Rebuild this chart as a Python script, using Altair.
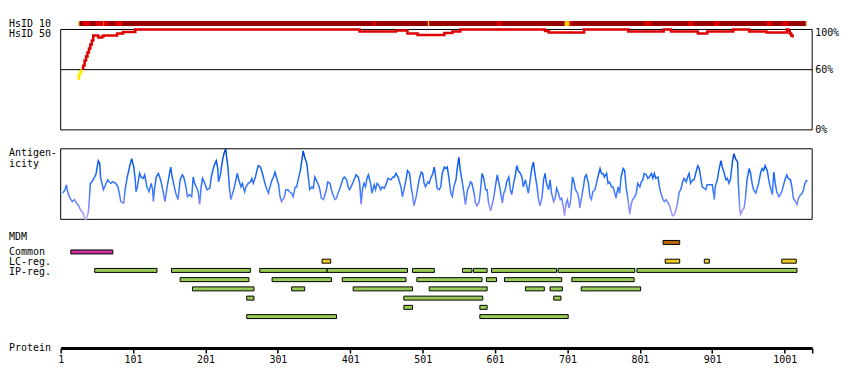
import altair as alt
import pandas as pd

PROTEIN_LENGTH = 1039
TICKS = [1, 101, 201, 301, 401, 501, 601, 701, 801, 901, 1001]

# ---- HsID 10 identity strip (residue segments) ----
hsid10_start = [26, 26, 32, 50, 59.5, 60.5, 76.5, 432, 508, 604, 697, 704, 808, 867, 903, 976, 998, 1030]
hsid10_end = [1031, 27, 41, 59.5, 60.5, 67, 86, 436, 510, 610, 704, 707, 816, 875, 911, 984, 1006, 1031]
hsid10_level = ["dark", "yellow", "red", "red", "yellow", "red", "red", "red", "yellow", "red",
                "yellow", "red", "red", "red", "red", "red", "red", "yellow"]

# ---- HsID 50 identity profile (%) ----
hsid50_low_res = [24, 26, 28, 30]
hsid50_low_pct = [51, 55, 58, 61]
hsid50_res = [30, 32, 34, 36, 38, 40, 42, 44, 46, 53, 58, 60, 79, 87, 104, 414, 464, 480, 494, 531,
              542, 553, 670, 675, 724, 785, 834, 844, 881, 894, 930, 952, 976, 1004, 1006, 1008, 1010, 1012]
hsid50_pct = [61, 64, 69, 73, 77, 81, 85, 89, 94, 92, 93, 94, 96, 97.5, 100, 98, 99, 96, 94.5, 96.5,
              98, 100, 98.5, 97, 100, 98, 100, 98, 96, 98, 100, 98, 97, 100, 99, 96, 94, 92]

# ---- Antigenicity profile (residue, relative score) ----
antigen_profile = [
    (4, 37), (7, 42), (9, 49), (10, 42), (12, 35), (14, 30), (17, 25), (20, 28), (23, 23), (26, 19),
    (28, 14), (32, 9), (34, 2), (36, 0), (39, 9), (40, 19), (42, 51), (44, 53), (48, 60), (50, 65),
    (51, 72), (53, 83), (55, 79), (56, 60), (58, 51), (60, 42), (63, 49), (66, 56), (70, 51), (73, 53),
    (77, 51), (80, 46), (82, 37), (84, 25), (88, 23), (90, 42), (93, 60), (96, 74), (99, 86), (102, 74),
    (104, 56), (105, 39), (107, 46), (110, 65), (112, 60), (115, 58), (117, 63), (120, 46), (123, 39), (126, 51),
    (128, 42), (129, 25), (131, 46), (133, 60), (136, 65), (139, 56), (142, 42), (145, 25), (148, 46), (151, 63),
    (153, 74), (155, 60), (158, 46), (160, 37), (163, 28), (166, 56), (169, 63), (171, 60), (174, 46), (176, 32),
    (179, 35), (182, 32), (184, 60), (186, 51), (189, 44), (191, 39), (193, 21), (195, 46), (197, 58), (200, 51),
    (203, 42), (207, 44), (209, 60), (211, 69), (214, 79), (216, 83), (218, 72), (219, 53), (222, 65), (223, 74),
    (225, 86), (227, 95), (229, 100), (230, 90), (232, 74), (234, 46), (236, 28), (238, 35), (240, 42), (242, 51),
    (245, 65), (247, 56), (250, 46), (252, 51), (255, 39), (257, 46), (260, 51), (263, 53), (265, 58), (267, 51),
    (270, 60), (272, 69), (274, 76), (277, 74), (279, 67), (281, 60), (283, 51), (286, 42), (288, 37), (290, 46),
    (293, 56), (295, 60), (297, 67), (299, 60), (302, 49), (304, 32), (306, 25), (310, 32), (312, 42), (315, 42),
    (317, 39), (320, 37), (322, 32), (325, 46), (327, 46), (329, 56), (332, 69), (334, 83), (336, 97), (338, 88),
    (341, 79), (343, 60), (345, 42), (348, 46), (350, 44), (352, 60), (354, 56), (357, 49), (359, 42), (361, 30),
    (364, 28), (366, 35), (368, 42), (370, 53), (373, 51), (375, 42), (377, 35), (380, 28), (382, 30), (384, 37),
    (386, 42), (389, 51), (391, 58), (393, 60), (396, 56), (398, 46), (400, 42), (402, 46), (405, 53), (407, 58),
    (409, 63), (412, 60), (414, 51), (416, 21), (418, 44), (420, 51), (422, 46), (424, 58), (426, 63), (429, 51),
    (431, 37), (434, 49), (436, 42), (438, 51), (440, 49), (443, 42), (445, 46), (448, 44), (451, 51), (453, 58),
    (457, 56), (460, 60), (462, 60), (464, 65), (467, 60), (469, 53), (471, 46), (473, 32), (476, 46), (478, 56),
    (480, 69), (483, 65), (485, 46), (487, 35), (489, 19), (492, 32), (494, 44),
    (496, 56), (499, 67), (501, 65), (503, 51), (505, 46), (508, 53), (510, 51), (512, 58), (515, 65), (517, 74),
    (519, 60), (521, 44), (524, 42), (526, 46), (528, 65), (531, 74), (533, 72), (535, 74), (537, 60), (540, 37),
    (542, 32), (544, 46), (547, 56), (549, 74), (551, 88), (553, 69), (556, 51), (558, 37), (560, 21), (563, 42),
    (565, 46), (567, 53), (569, 51), (572, 37), (574, 23), (576, 19), (579, 25), (581, 42), (583, 65), (585, 60),
    (588, 42), (590, 42), (592, 23), (595, 12), (597, 21), (599, 30), (601, 44), (604, 63), (606, 53), (608, 42),
    (611, 23), (613, 37), (615, 42), (617, 53), (620, 60), (622, 42), (624, 35), (627, 53), (629, 63), (631, 76),
    (633, 69), (636, 65), (638, 60), (640, 46), (643, 56), (645, 46), (647, 37), (650, 60), (652, 74), (654, 81),
    (656, 65), (659, 46), (661, 28), (663, 19), (666, 32), (668, 56), (670, 65), (672, 51), (675, 42), (677, 56),
    (679, 37), (682, 25), (684, 30), (686, 44), (688, 39), (691, 28), (693, 30), (695, 19), (697, 5), (699, 23),
    (701, 28), (703, 16), (705, 23), (708, 60), (710, 53), (712, 42), (715, 37), (717, 28), (718, 16), (720, 28),
    (723, 46), (725, 60), (727, 63), (730, 51), (732, 32), (734, 28), (736, 39), (739, 42), (741, 51), (743, 60),
    (746, 72), (748, 65), (750, 65), (752, 60), (755, 65), (757, 51), (759, 53), (762, 46), (764, 46), (766, 39),
    (768, 30), (771, 46), (773, 37), (775, 60), (778, 72), (780, 69), (782, 46), (785, 25), (787, 7), (789, 21),
    (791, 28), (794, 32), (796, 37), (798, 51), (801, 46), (803, 53), (805, 56), (807, 65), (810, 63), (812, 58),
    (814, 60), (817, 65), (819, 58), (821, 65), (823, 58), (826, 60), (828, 46), (830, 37), (833, 28), (835, 25),
    (837, 28), (839, 25), (842, 19), (844, 12), (846, 5), (849, 7), (851, 14), (853, 23), (855, 37), (858, 44),
    (860, 53), (862, 58), (865, 53), (867, 60), (869, 65), (871, 51), (874, 56), (876, 56), (878, 65), (881, 76),
    (883, 72), (885, 60), (887, 46), (890, 44), (892, 42), (894, 49), (897, 49), (899, 49), (901, 49), (904, 28),
    (905, 46), (908, 56), (910, 69), (913, 83), (915, 74), (917, 67), (920, 56), (922, 58), (924, 51), (926, 56),
    (929, 83), (931, 93), (933, 86), (936, 81), (937, 51), (939, 14), (940, 7), (942, 12), (945, 16), (947, 32),
    (949, 56), (952, 72), (954, 65), (956, 51), (958, 42), (961, 37), (963, 44), (965, 51), (968, 67), (970, 72),
    (972, 69), (974, 76), (977, 69), (979, 56), (981, 46), (984, 35), (986, 67), (988, 51), (990, 39), (993, 32),
    (995, 35), (997, 39), (1000, 51), (1002, 58), (1004, 63), (1006, 58), (1009, 56), (1011, 46), (1013, 30), (1016, 25),
    (1018, 21), (1020, 30), (1023, 35), (1025, 37), (1027, 42), (1029, 51), (1032, 56),
]

# ---- Feature tracks (start, end residues) ----
track_names = ["MDM", "Common", "LC-reg.", "IP-reg."]
mdm_regions = [(833, 856)]
common_regions = [(15, 73)]
lc_regions = [(362, 374), (836, 856), (890, 897), (997, 1017)]
ip_rows = [
    [(48, 134), (154, 263), (276, 369), (369, 480), (487, 517), (556, 569), (571, 590), (596, 686), (688, 794), (797, 1018)],
    [(166, 261), (293, 375), (390, 478), (493, 583), (589, 603), (614, 693), (707, 793)],
    [(183, 268), (320, 338), (405, 487), (510, 590), (643, 669), (677, 694), (720, 802)],
    [(258, 268), (475, 584), (682, 692)],
    [(475, 487), (580, 590)],
    [(258, 382), (580, 702)],
]

# ---------------- build tables ----------------
strip_df = pd.DataFrame({"start": hsid10_start, "end": hsid10_end, "level": hsid10_level})
hs_df = pd.concat([
    pd.DataFrame({"res": hsid50_low_res, "pct": hsid50_low_pct, "seg": "low"}),
    pd.DataFrame({"res": hsid50_res, "pct": hsid50_pct, "seg": "high"}),
])
ag_df = pd.DataFrame(antigen_profile, columns=["res", "score"])

feat_rows = []
for s, e in mdm_regions:
    feat_rows.append({"track": "MDM", "lane": 0, "start": s, "end": e})
for s, e in common_regions:
    feat_rows.append({"track": "Common", "lane": 1, "start": s, "end": e})
for s, e in lc_regions:
    feat_rows.append({"track": "LC-reg.", "lane": 2, "start": s, "end": e})
for i, row in enumerate(ip_rows):
    for s, e in row:
        feat_rows.append({"track": "IP-reg.", "lane": 3 + i, "start": s, "end": e})
feat_df = pd.DataFrame(feat_rows)
lane_label_df = pd.DataFrame({"name": track_names, "lane": [0, 1, 2, 3]})
frame_df = pd.DataFrame({"x0": [1], "x1": [PROTEIN_LENGTH], "y0": [0], "y1": [100]})

# ---------------- scales / styles ----------------
W, H = 756, 341
LABEL_X = -52
FONT = "DejaVu Sans Mono"
XS = alt.Scale(domain=[1, PROTEIN_LENGTH], range=[0, W], nice=False, zero=False)
AX = alt.Axis(values=TICKS + [PROTEIN_LENGTH], format="d",
              labelExpr="datum.value > 1030 ? '' : datum.label",
              domainWidth=3, domainColor="black", tickColor="black", tickSize=5, tickWidth=1.5,
              labelFont=FONT, labelFontSize=10, labelColor="black", labelPadding=2,
              grid=False, title=None, labelFlush=False, labelOverlap=False)
HS_Y = alt.Scale(domain=[0, 100], range=[121.5, 20.5], nice=False, zero=False)
AG_Y = alt.Scale(domain=[0, 100], range=[211.5, 140.5], nice=False, zero=False)
LANE_Y = alt.Scale(domain=[0, 1, 8], range=[229.6, 244.3, 314.3], nice=False, zero=False)


def X(field):
    return alt.X(field, type="quantitative", scale=XS, axis=AX)


strip = alt.Chart(strip_df).mark_rect().encode(
    x=X("start"), x2="end", y=alt.value(12), y2=alt.value(17),
    color=alt.Color("level:N", scale=alt.Scale(domain=["dark", "red", "yellow"],
                                               range=["#990000", "#dd0000", "#ffcc00"]), legend=None),
)

hs_frame = alt.Chart(frame_df).mark_rect(filled=False, stroke="black", strokeWidth=1).encode(
    x=X("x0"), x2="x1", y=alt.Y("y0:Q", scale=HS_Y, axis=None), y2="y1")
hs_rule = alt.Chart(pd.DataFrame({"pct": [60]})).mark_rule(color="black", strokeWidth=1).encode(
    y=alt.Y("pct:Q", scale=HS_Y, axis=None))
hs_line = alt.Chart(hs_df).mark_line(interpolate="step-after", strokeWidth=2.5).encode(
    x=X("res"), y=alt.Y("pct:Q", scale=HS_Y, axis=None),
    color=alt.Color("seg:N", scale=alt.Scale(domain=["low", "high"], range=["#ffee00", "#dd0000"]), legend=None),
)
hs_labels = alt.Chart(pd.DataFrame({"pct": [60, 0], "label": ["60%", "0%"]})).mark_text(
    align="left", baseline="middle", font=FONT, fontSize=10, color="black").encode(
    x=alt.value(759), y=alt.Y("pct:Q", scale=HS_Y, axis=None), text="label:N")
hs_top_label = alt.Chart(pd.DataFrame({"pct": [100], "label": ["100%"]})).mark_text(
    align="left", baseline="middle", dy=4, font=FONT, fontSize=10, color="black").encode(
    x=alt.value(759), y=alt.Y("pct:Q", scale=HS_Y, axis=None), text="label:N")

ag_frame = alt.Chart(frame_df).mark_rect(filled=False, stroke="black", strokeWidth=1).encode(
    x=X("x0"), x2="x1", y=alt.Y("y0:Q", scale=AG_Y, axis=None), y2="y1")
ag_line = alt.Chart(ag_df).mark_line(
    strokeWidth=1.5,
    stroke=alt.LinearGradient(gradient="linear", x1=0, y1=0, x2=0, y2=1, stops=[
        alt.GradientStop(color="#0040c0", offset=0),
        alt.GradientStop(color="#0f62f5", offset=0.3),
        alt.GradientStop(color="#3a78ff", offset=0.6),
        alt.GradientStop(color="#8a8cff", offset=0.85),
        alt.GradientStop(color="#b8a8ff", offset=1),
    ])).encode(x=X("res"), y=alt.Y("score:Q", scale=AG_Y, axis=None))

features = alt.Chart(feat_df).mark_bar(height=4, stroke="black", strokeWidth=1).encode(
    x=X("start"), x2="end", y=alt.Y("lane:Q", scale=LANE_Y, axis=None),
    color=alt.Color("track:N", scale=alt.Scale(domain=track_names,
                                               range=["#bb6600", "#cc3399", "#eecc22", "#99cc55"]), legend=None),
)
lane_labels = alt.Chart(lane_label_df).mark_text(
    align="left", baseline="middle", font=FONT, fontSize=10, color="black").encode(
    x=alt.value(LABEL_X), y=alt.Y("lane:Q", scale=LANE_Y, axis=None), text="name:N")


def left_label(text, ypos):
    return alt.Chart(pd.DataFrame({"t": [text]})).mark_text(
        align="left", baseline="middle", font=FONT, fontSize=10, color="black").encode(
        x=alt.value(LABEL_X), y=alt.value(ypos), text="t:N")


labels = [left_label("HsID 10", 14.5), left_label("HsID 50", 25), left_label("Antigen-", 145),
          left_label("icity", 155.5), left_label("Protein", 341)]

chart = alt.layer(
    strip, hs_frame, hs_rule, hs_line, hs_labels, hs_top_label,
    ag_frame, ag_line, features, lane_labels, *labels,
).resolve_scale(y="independent", color="independent").properties(
    width=W, height=H,
    autosize=alt.AutoSizeParams(type="none"),
    padding={"left": 53, "top": 0, "right": 30, "bottom": 30},
    background="white",
).configure_view(stroke=None)

chart.save("out.html", embed_options={"renderer": "svg", "actions": False})
